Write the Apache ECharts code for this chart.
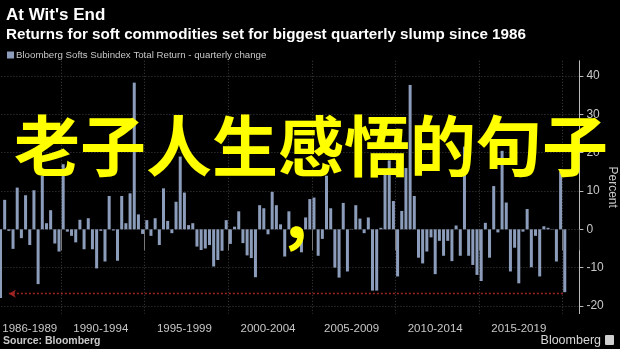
<!DOCTYPE html>
<html><head><meta charset="utf-8">
<script src="https://cdn.jsdelivr.net/npm/echarts@6/dist/echarts.min.js"></script>
<style>html,body{margin:0;padding:0;background:#000;}#c{width:620px;height:349px;}</style>
</head><body><div id="c"></div>
<script>
// ---- data ----
const startYear = 1986, startQuarter = 2, endYear = 2020;
const categories = [];
for (let y = startYear; y <= endYear; y++) {
  for (let q = 1; q <= 4; q++) {
    if (y === startYear && q < startQuarter) continue;
    categories.push(y + ' Q' + q);
  }
}
const values = [
  -17.9, 7.7, -0.4, -5.1, 10.9, -2.3, 8.9, -4.1, 10.2, -14.3,
  14, 1.6, 5, -3.7, -5.8, 17, -0.6, -1.7, -3.4, 2.5,
  -5.2, 2.9, -5.2, -10.2, -0.4, -8.4, 8.7, -0.3, -8.2, 8.7,
  1.6, 9.4, 38.3, 3.9, -1.2, 2.4, -1.7, 2.9, -4.1, 10.7,
  2.2, -1, 7.2, 19, 9.6, 1.1, 1.6, -4.5, -5.4, -5,
  -4.1, -9.7, -8, -5.6, 2.4, -3.8, 0.7, 4.7, -3.6, -6.8,
  -7.5, -12.5, 6.3, 5.5, -1.3, 9.8, 6.3, 1.3, -7.1, 4.7,
  -1, -1.5, -6, 3.1, 7.9, 8.3, -6.9, -2.5, 14, 5.5,
  -10, -12.6, 6.9, -11, 0.1, 6.3, 2.8, -1, 3.1, -16,
  -16, 0.4, 15, 18, 7.4, -12.3, 4.8, 16, 37.7, 8.7,
  -7.4, -8.9, -5.8, -2.1, -11.7, -3, -6.9, -3, -8.3, 1,
  -6.9, 21.6, -6.9, -9.3, -11.9, -13.5, 1.7, -7.4, 11.3, -0.8,
  20.5, 7, -11, -4.8, -14.1, -0.6, 5.3, -9.9, -1.7, -12.3,
  0.8, 0.4, 0.1, -8.4, 15, -16.4
];
const groupLabels = ['1986-1989', '1990-1994', '1995-1999', '2000-2004', '2005-2009', '2010-2014', '2015-2019'];
const groupStartYears = [1986, 1990, 1995, 2000, 2005, 2010, 2015];
const groupEndYears = [1989, 1994, 1999, 2004, 2009, 2014, 2019];
const yTicks = [-20, -10, 0, 10, 20, 30, 40];
const refLevel = -16.8;
const refFrom = '1986 Q4';
const refTo = '2020 Q1';
const seriesName = 'Bloomberg Softs Subindex Total Return - quarterly change';

// ---- derived helpers ----
const yearOf = c => parseInt(c, 10);
const labelAt = {};
groupLabels.forEach((lab, g) => {
  const idx = categories.map((c, i) => [c, i]).filter(([c]) => yearOf(c) >= groupStartYears[g] && yearOf(c) <= groupEndYears[g]).map(([, i]) => i);
  labelAt[Math.floor((idx[0] + idx[idx.length - 1]) / 2)] = lab;
});
const isBoundary = i => { const c = categories[i]; return c && c.endsWith('Q1') && yearOf(c) % 5 === 0; };

const chart = echarts.init(document.getElementById('c'), null, {renderer: 'canvas'});
const FONT = '"Liberation Sans", Arial, sans-serif';
const barColor = '#8c9dbb';
chart.setOption({
  backgroundColor: '#000',
  animation: false,
  title: [
    {text: "At Wit's End", left: 1, top: 2, textStyle: {color: '#fff', fontSize: 17, fontWeight: 'bold', fontFamily: FONT}},
    {text: 'Returns for soft commodities set for biggest quarterly slump since 1986', left: 1, top: 22, textStyle: {color: '#fff', fontSize: 15.2, fontWeight: 'bold', fontFamily: FONT}}
  ],
  legend: {
    left: 2, top: 45, itemWidth: 7, itemHeight: 7, icon: 'rect', itemGap: 2,
    textStyle: {color: '#c8c8c8', fontSize: 9.7, fontFamily: FONT, padding: [0, 0, 0, -3]},
    data: [seriesName]
  },
  grid: {left: -1.6, right: 40.6, top: 60.8, bottom: 35.4, containLabel: false, outerBoundsMode: 'none'},
  xAxis: {
    type: 'category', data: categories, boundaryGap: true,
    axisLine: {show: false},
    axisTick: {show: true, length: 21, interval: (i) => isBoundary(i), lineStyle: {color: '#777'}},
    splitLine: {show: true, interval: (i) => isBoundary(i), lineStyle: {color: '#3e3e3e', type: [1, 2]}},
    axisLabel: {
      interval: (i) => labelAt[i] !== undefined,
      formatter: (v, i) => labelAt[i] || '',
      color: '#c8c8c8', fontSize: 11.5, fontFamily: FONT, margin: 9
    }
  },
  yAxis: {
    type: 'value', position: 'right', min: -22, max: 44,
    name: 'Percent', nameLocation: 'middle', nameRotate: -90, nameGap: 27, nameMoveOverlap: false,
    nameTextStyle: {color: '#c8c8c8', fontSize: 12, fontFamily: FONT},
    axisLine: {show: true, lineStyle: {color: '#bbb'}},
    axisTick: {show: true, inside: false, length: 4, customValues: yTicks, lineStyle: {color: '#bbb'}},
    axisLabel: {customValues: yTicks, color: '#c8c8c8', fontSize: 12, fontFamily: FONT, margin: 7},
    splitLine: {show: true, lineStyle: {color: '#3e3e3e', type: [1, 2]}}
  },
  series: [{
    name: seriesName, type: 'bar', data: values, barWidth: 3,
    itemStyle: {color: barColor},
    markLine: {
      silent: true, animation: false,
      label: {show: false},
      emphasis: {disabled: true},
      symbol: ['arrow', 'none'], symbolSize: [6, 7],
      lineStyle: {color: '#a02424', type: [2, 2], width: 1.3, opacity: 1},
      data: [[
        {coord: [refFrom, refLevel]},
        {coord: [refTo, refLevel]}
      ]]
    }
  }],
  graphic: [
    {type: 'text', z: 100, x: 3, y: 336, style: {text: 'Source: Bloomberg', fill: '#c8c8c8', font: 'bold 10.5px ' + FONT}},
    {type: 'text', z: 100, x: 601, y: 334, style: {text: 'Bloomberg', fill: '#d8d8d8', font: '12.5px ' + FONT, align: 'right'}},
    {type: 'rect', z: 100, shape: {x: 605, y: 335, width: 9, height: 10, r: 1}, style: {fill: '#cfcfcf'}},
    {type: 'text', z: 200, x: 311, y: 110, style: {
      text: '老子人生感悟的句子\n，', fill: '#ffff00', align: 'center', verticalAlign: 'top',
      font: 'bold 66px "Noto Sans CJK SC"', lineHeight: 71
    }}
  ]
});
</script></body></html>
